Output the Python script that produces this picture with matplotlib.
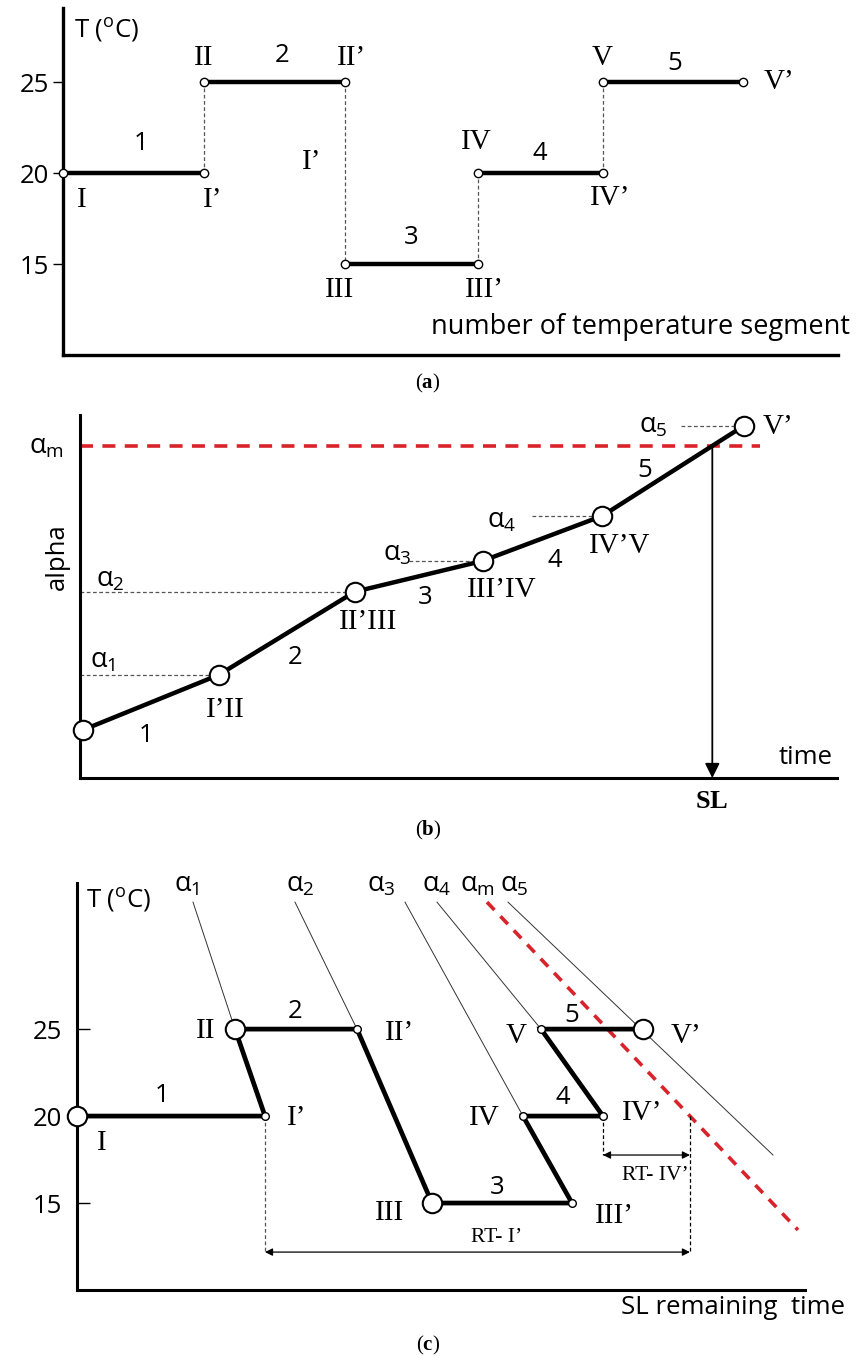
import numpy as np
import matplotlib.pyplot as plt

W, H = 856, 1356
plt.rcParams['font.family'] = ['Open Sans', 'DejaVu Sans']
plt.rcParams['mathtext.fontset'] = 'custom'
plt.rcParams['mathtext.rm'] = 'Liberation Serif'
plt.rcParams['mathtext.bf'] = 'Liberation Serif:bold'
plt.rcParams['mathtext.sf'] = 'Open Sans'

# ---- data (a): temperature segments ----
seg_start_a = [0, 1, 2, 2.94, 3.83]
seg_end_a = [1, 2, 2.94, 3.83, 4.82]
temp_a = [20, 25, 15, 20, 25]
seg_names = ['1', '2', '3', '4', '5']

# ---- data (b): alpha vs time ----
time_b = [0, 1, 2, 2.94, 3.82, 4.86]
alpha_b = [0.132, 0.284, 0.513, 0.598, 0.722, 0.970]
alpha_m = 0.915
node_names_b = ['I’II', 'II’III', 'III’IV', 'IV’V', 'V’']

# ---- data (c): SL remaining time ----
path_x_c = [0, 1.88, 1.58, 2.80, 3.55, 4.95, 4.46, 5.26, 4.64, 5.66]
path_t_c = [20, 20, 25, 25, 15, 15, 20, 20, 25, 25]
big_nodes_c = [0, 2, 4, 9]
small_nodes_c = [1, 3, 5, 6, 7, 8]
iso_top_x = [1.16, 2.18, 3.28, 3.60, 4.31]
iso_top_t = 32.3
iso_end_x = [1.58, 2.80, 4.46, 4.64, 6.96]
iso_end_t = [25, 25, 20, 25, 17.76]
am_x = [4.10, 7.21]
am_t = [32.3, 13.45]

RED = '#d9232a'
SERIF = 'Liberation Serif'
FS = 18.5      # sans labels
FR = 21        # roman numeral labels
FA = 19.5      # alpha labels


def box(l, t, r, b):
    return [l / W, 1 - b / H, (r - l) / W, (b - t) / H]


def ftext(x, y, s, **kw):
    kw.setdefault('ha', 'center')
    kw.setdefault('va', 'center')
    fig.text(x / W, 1 - y / H, s, **kw)


fig = plt.figure(figsize=(W / 100, H / 100), dpi=100)

# ================= (a) =================
ax = fig.add_axes(box(63, 8, 838, 355))
ax.set_xlim(0, 775 / 141)
ax.set_ylim(10, 29.1)
for s in ['top', 'right']:
    ax.spines[s].set_visible(False)
for s in ['left', 'bottom']:
    ax.spines[s].set_linewidth(2.4)
ax.set_xticks([])
ax.set_yticks([15, 20, 25])
ax.tick_params(axis='y', direction='out', length=7, width=1, pad=3, labelsize=FS)

for i in range(5):
    ax.plot([seg_start_a[i], seg_end_a[i]], [temp_a[i], temp_a[i]], color='black', lw=3.2,
            solid_capstyle='butt', zorder=3)
    ax.plot([seg_start_a[i], seg_end_a[i]], [temp_a[i], temp_a[i]], 'o', ms=6, mfc='white',
            mec='black', mew=1, zorder=4, clip_on=False)
    if i < 4:
        ax.plot([seg_end_a[i], seg_start_a[i + 1]], [temp_a[i], temp_a[i + 1]], color='#555555',
                lw=0.9, ls=(0, (3, 2)), zorder=2)

for x, y, s in zip([141, 282, 411, 540, 675], [143, 55, 237, 153, 63], seg_names):
    ftext(x, y, s, fontsize=FS)
for x, y, s in [(82, 200, 'I'), (213, 200, 'I’'), (204, 58, 'II'), (352, 58, 'II’'),
                (312, 162, 'I’'), (340, 290, 'III'), (484, 290, 'III’'), (476, 142, 'IV'),
                (610, 198, 'IV’'), (602, 58, 'V'), (779, 82, 'V’')]:
    ftext(x, y, s, fontsize=FR, family=SERIF)
ftext(74, 30, r'T ($^{\mathsf{o}}$C)', fontsize=FS, ha='left')
ftext(850, 327, 'number of temperature segment', fontsize=19.5, ha='right')
ftext(428, 383, r'($\mathbf{a}$)', fontsize=15, family=SERIF)

# ================= (b) =================
ax = fig.add_axes(box(80, 415, 837, 778))
ax.set_xlim(-0.02, 757 / 136 - 0.02)
ax.set_ylim(0, 1)
for s in ['top', 'right']:
    ax.spines[s].set_visible(False)
for s in ['left', 'bottom']:
    ax.spines[s].set_linewidth(2.2)
ax.set_xticks([])
ax.set_yticks([])

ax.plot(time_b, alpha_b, color='black', lw=3.2, zorder=3)
ax.plot(time_b, alpha_b, 'o', ms=14, mfc='white', mec='black', mew=1.5, zorder=4, clip_on=False)
ax.plot([-0.02, 4.98], [alpha_m, alpha_m], color=RED, lw=2.6, ls=(0, (3.6, 2.6)), zorder=2)

# reference levels alpha_1..alpha_5
lvl_from = [-0.02, -0.02, 2.40, 3.30, 4.40]
for i in range(5):
    ax.plot([lvl_from[i], time_b[i + 1]], [alpha_b[i + 1], alpha_b[i + 1]], color='#555555',
            lw=0.9, ls=(0, (3, 2)), zorder=2)

# shelf life: crossing of alpha_m on segment 5
t_sl = time_b[4] + (alpha_m - alpha_b[4]) / (alpha_b[5] - alpha_b[4]) * (time_b[5] - time_b[4])
ax.annotate('', xy=(t_sl, 0), xytext=(t_sl, alpha_m),
            arrowprops=dict(arrowstyle='-|>', lw=1.3, color='black', mutation_scale=22,
                            shrinkA=0, shrinkB=0))

for x, y, s in [(103, 660, r'$\mathsf{α_1}$'), (110, 580, r'$\mathsf{α_2}$'),
                (397, 553, r'$\mathsf{α_3}$'), (502, 520, r'$\mathsf{α_4}$'),
                (653, 425, r'$\mathsf{α_5}$'), (46, 447, r'$\mathsf{α_m}$')]:
    ftext(x, y, s, fontsize=FA)
for x, y, s in zip([146, 295, 425, 555, 645], [735, 657, 597, 560, 470], seg_names):
    ftext(x, y, s, fontsize=FS)
for x, y, s in zip([225, 368, 502, 620, 778], [710, 622, 590, 546, 427], node_names_b):
    ftext(x, y, s, fontsize=FR, family=SERIF)
ftext(57, 557, 'alpha', fontsize=FS, rotation=90)
ftext(806, 757, 'time', fontsize=FS)
ftext(712, 802, r'$\mathbf{SL}$', fontsize=19)
ftext(428, 830, r'($\mathbf{b}$)', fontsize=15, family=SERIF)

# ================= (c) =================
ax = fig.add_axes(box(77, 883, 805, 1290))
ax.set_xlim(0, 7.28)
ax.set_ylim(10, 33.4)
for s in ['top', 'right']:
    ax.spines[s].set_visible(False)
for s in ['left', 'bottom']:
    ax.spines[s].set_linewidth(2.2)
ax.set_xticks([])
ax.set_yticks([15, 20, 25])
ax.tick_params(axis='y', direction='in', length=9, width=1, pad=11, labelsize=FS)

for i in range(5):
    ax.plot([iso_top_x[i], iso_end_x[i]], [iso_top_t, iso_end_t[i]], color='#333333', lw=0.7,
            zorder=2)
ax.plot(am_x, am_t, color=RED, lw=2.6, ls=(0, (3, 2.4)), zorder=2)
ax.plot(path_x_c, path_t_c, color='black', lw=3.4, zorder=3, solid_joinstyle='miter')
ax.plot([path_x_c[i] for i in big_nodes_c], [path_t_c[i] for i in big_nodes_c], 'o', ms=14,
        mfc='white', mec='black', mew=1.5, zorder=4, clip_on=False)
ax.plot([path_x_c[i] for i in small_nodes_c], [path_t_c[i] for i in small_nodes_c], 'o', ms=5.5,
        mfc='white', mec='black', mew=1, zorder=4)

# remaining times: where alpha_m crosses T = 20
x_rt = am_x[0] + (am_t[0] - 20) / (am_t[0] - am_t[1]) * (am_x[1] - am_x[0])
y_rt1, y_rt4 = 12.18, 17.76
ax.plot([path_x_c[1], path_x_c[1]], [20, y_rt1], color='#555555', lw=0.9, ls=(0, (3, 2)))
ax.plot([path_x_c[7], path_x_c[7]], [20, y_rt4], color='black', lw=0.9, ls=(0, (3, 2)))
ax.plot([x_rt, x_rt], [20, y_rt1], color='black', lw=0.9, ls=(0, (3, 2)))
for x0, y0 in [(path_x_c[1], y_rt1), (path_x_c[7], y_rt4)]:
    ax.annotate('', xy=(x_rt, y0), xytext=(x0, y0),
                arrowprops=dict(arrowstyle='<|-|>', lw=0.9, color='black', mutation_scale=11,
                                shrinkA=0, shrinkB=0))

for x, y, s in [(187, 884, r'$\mathsf{α_1}$'), (300, 884, r'$\mathsf{α_2}$'),
                (381, 884, r'$\mathsf{α_3}$'), (437, 884, r'$\mathsf{α_4}$'),
                (477, 884, r'$\mathsf{α_m}$'), (514, 884, r'$\mathsf{α_5}$')]:
    ftext(x, y, s, fontsize=FA)
for x, y, s in zip([162, 295, 497, 563, 572], [1095, 1012, 1187, 1097, 1015], seg_names):
    ftext(x, y, s, fontsize=FS)
for x, y, s in [(102, 1143, 'I'), (297, 1118, 'I’'), (206, 1031, 'II'), (400, 1033, 'II’'),
                (390, 1213, 'III'), (614, 1216, 'III’'), (484, 1118, 'IV'), (642, 1113, 'IV’'),
                (516, 1036, 'V'), (686, 1036, 'V’')]:
    ftext(x, y, s, fontsize=FR, family=SERIF)
ftext(497, 1238, 'RT- I’', fontsize=15.5, family=SERIF)
ftext(655, 1175, 'RT- IV’', fontsize=15.5, family=SERIF)
ftext(86, 900, r'T ($^{\mathsf{o}}$C)', fontsize=FS, ha='left')
ftext(845, 1307, 'SL remaining  time', fontsize=18.5, ha='right')
ftext(428, 1345, r'($\mathbf{c}$)', fontsize=15, family=SERIF)

fig.savefig('out.png', dpi=100)
